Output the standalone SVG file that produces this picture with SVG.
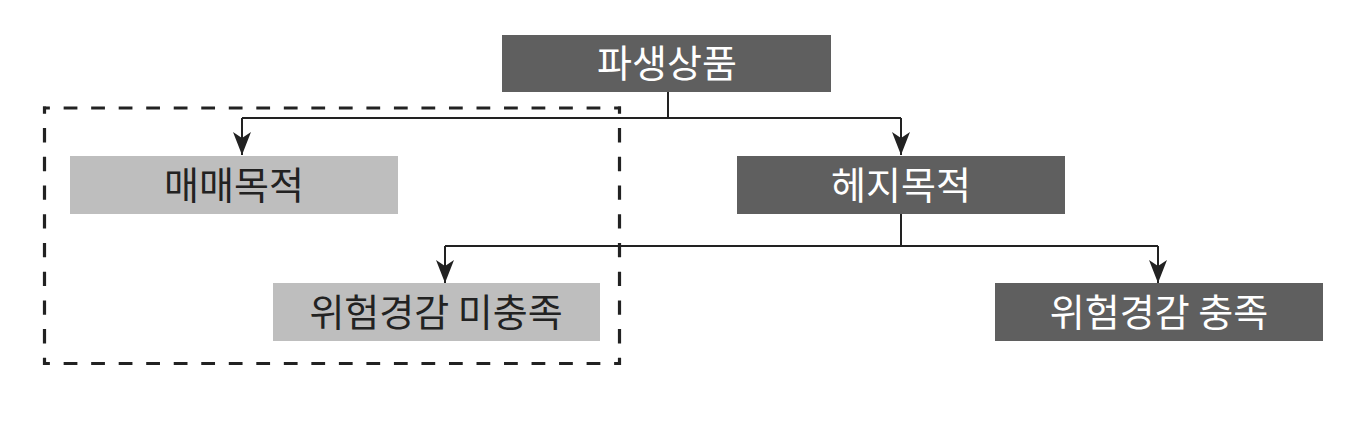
<svg xmlns="http://www.w3.org/2000/svg" width="1350" height="424" viewBox="0 0 1350 424">
<style>
.dark{fill:#5f5f5f;}
.light{fill:#bebebe;}
.t{font-family:"Noto Sans CJK KR","Noto Sans",sans-serif;font-size:38px;font-weight:400;text-anchor:middle;}
.tw{fill:#ffffff;}
.tb{fill:#222222;}
.ln{fill:none;stroke:#222222;stroke-width:2;}
.dash{fill:none;stroke:#222222;stroke-width:3.2;stroke-dasharray:14 14;stroke-dashoffset:7;}
</style>
<defs>
<marker id="ah" markerUnits="userSpaceOnUse" markerWidth="18" markerHeight="24" viewBox="0 0 18 24" refX="9" refY="23" orient="0">
<path d="M0,0 L9,6 L18,0 L9,23 Z" fill="#222222"/>
</marker>
</defs>
<g id="dashed-group">
<path class="dash" d="M43,108 H621" pathLength="588"/>
<path class="dash" d="M43,363.5 H621" pathLength="588"/>
<path class="dash" d="M44.5,106.5 V365" pathLength="252"/>
<path class="dash" d="M619.5,106.5 V365" pathLength="252"/>
</g>
<g id="connectors">
<path class="ln" d="M668,92 V118 M242,118 H901"/>
<path class="ln" d="M242,118 V155" marker-end="url(#ah)"/>
<path class="ln" d="M901,118 V155" marker-end="url(#ah)"/>
<path class="ln" d="M901,214 V246 M445,246 H1158"/>
<path class="ln" d="M445,246 V283" marker-end="url(#ah)"/>
<path class="ln" d="M1158,246 V283" marker-end="url(#ah)"/>
</g>
<g id="n-derivative">
<rect class="dark" x="502" y="35" width="329" height="57"/>
<text class="t tw" x="667" y="77">파생상품</text>
</g>
<g id="n-trading">
<rect class="light" x="70" y="156" width="328" height="58"/>
<text class="t tb" x="234" y="199">매매목적</text>
</g>
<g id="n-hedge">
<rect class="dark" x="737" y="156" width="328" height="58"/>
<text class="t tw" x="901" y="199">헤지목적</text>
</g>
<g id="n-unmet">
<rect class="light" x="273" y="283" width="327" height="58"/>
<text class="t tb" x="436" y="326">위험경감 미충족</text>
</g>
<g id="n-met">
<rect class="dark" x="995" y="283" width="328" height="58"/>
<text class="t tw" x="1159" y="326">위험경감 충족</text>
</g>
</svg>
